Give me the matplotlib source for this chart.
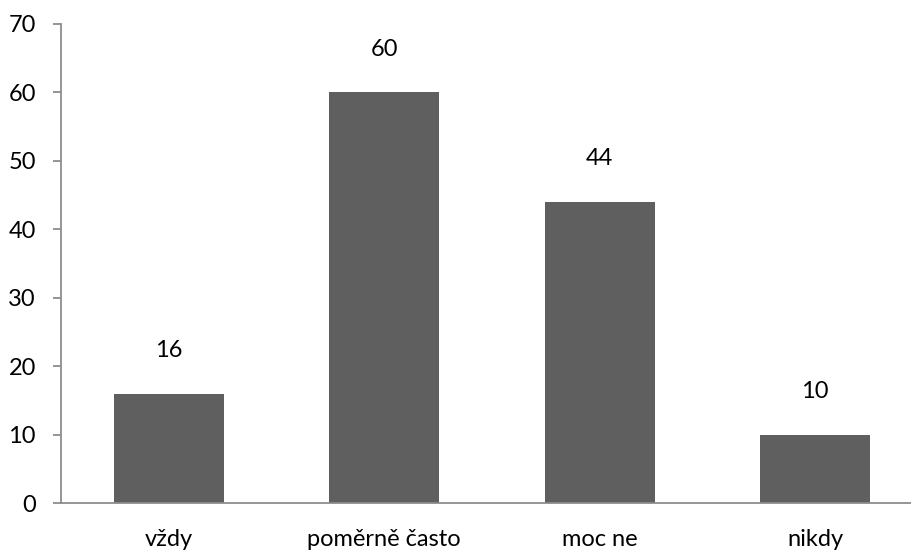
import matplotlib.pyplot as plt
import numpy as np

categories = ['vždy', 'poměrně často', 'moc ne', 'nikdy']
values = [16, 60, 44, 10]

plt.rcParams['font.family'] = ['Lato', 'DejaVu Sans']

fig = plt.figure(figsize=(9.12, 5.5), dpi=100)
# axes run a little past the right edge, as in the reference
ax = fig.add_axes([61 / 912, 1 - 503 / 550, 862 / 912, 479 / 550])

x = np.arange(len(categories))
ax.bar(x, values, width=0.51, color='#5f5f5f')

for xi, v in zip(x, values):
    ax.annotate(str(v), (xi, v), xytext=(0, 31), textcoords='offset points',
                ha='center', va='center', fontsize=17, color='black')

ax.set_xlim(-0.5, len(categories) - 0.5)
ax.set_ylim(0, 70)
ax.set_yticks(range(0, 71, 10))
ax.set_xticks(x)
ax.set_xticklabels(categories)

for s in ['top', 'right']:
    ax.spines[s].set_visible(False)
for s in ['left', 'bottom']:
    ax.spines[s].set_color('#8c8c8c')
    ax.spines[s].set_linewidth(1.3)

ax.tick_params(axis='y', length=6, width=1.3, color='#8c8c8c', labelsize=17, pad=12)
ax.tick_params(axis='x', length=0, labelsize=17, pad=19)

fig.savefig('out.png', dpi=100)
